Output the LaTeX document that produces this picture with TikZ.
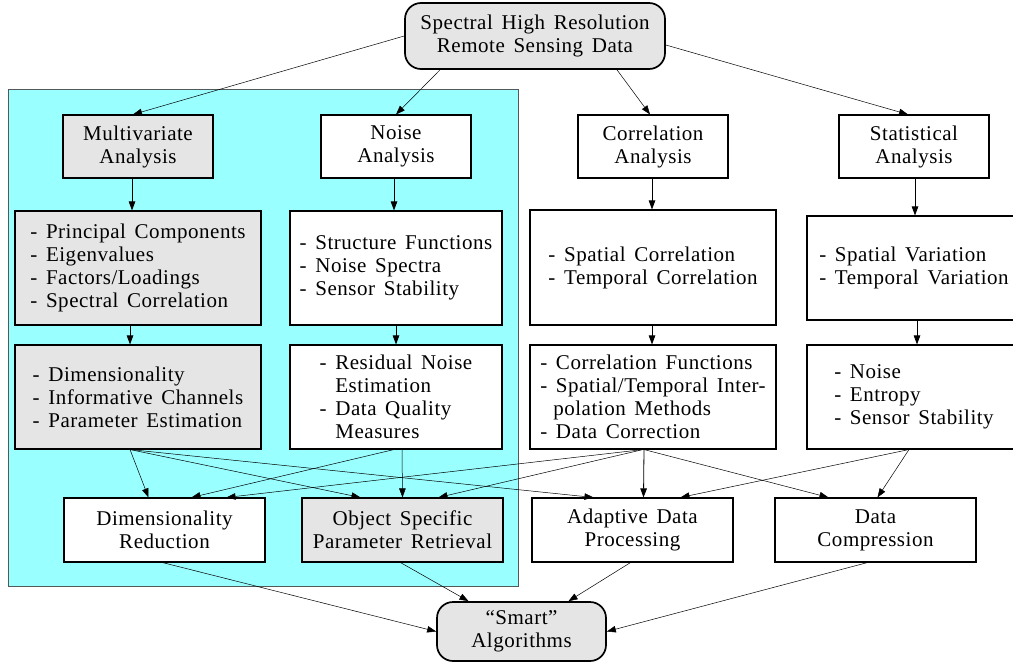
\documentclass[tikz,border=0pt]{standalone}
\usepackage{fontspec}
\setmainfont{Liberation Serif}[LetterSpace=2.5,WordSpace=1.5]
\usetikzlibrary{arrows.meta}
\definecolor{bgcyan}{RGB}{153,255,255}
\definecolor{boxgray}{RGB}{229,229,229}
\definecolor{bgedge}{RGB}{80,90,90}
\begin{document}
\begin{tikzpicture}[x=1pt,y=-1pt,
  txt/.style={font=\fontsize{21}{23}\selectfont},
  box/.style={draw, line width=1.1pt, inner sep=0pt, align=center, txt},
  lbox/.style={box, align=left},
  gbox/.style={fill=boxgray},
  rbox/.style={draw, line width=1.7pt, rounded corners=16pt, fill=boxgray, inner sep=0pt, align=center, txt},
  arr/.style={-{Triangle[length=9pt,width=6.5pt]}, line width=0.5pt},
  varr/.style={-{Triangle[length=9pt,width=6.5pt]}, line width=0.8pt}]
\useasboundingbox (0,0) rectangle (1013,662);
% background panel
\node[draw=bgedge, line width=0.8pt, fill=bgcyan, minimum width=510pt, minimum height=497pt, inner sep=0pt] (bg) at (263,337.5) {};
% top and bottom
\node[rbox, minimum width=260pt, minimum height=66pt] (sp) at (535,36) {Spectral High Resolution\\Remote Sensing Data};
\node[rbox, minimum width=169pt, minimum height=59pt] (sm) at (521.5,631.5) {“Smart”\\Algorithms};
% row 1
\node[box, gbox, minimum width=150pt, minimum height=63pt] (ma) at (138,146.5) {Multivariate\\Analysis};
\node[box, fill=white, minimum width=150pt, minimum height=63pt] (na) at (396,146.5) {Noise\\Analysis};
\node[box, fill=white, minimum width=150pt, minimum height=63pt] (ca) at (653,146.5) {Correlation\\Analysis};
\node[box, fill=white, minimum width=150pt, minimum height=63pt] (sa) at (914,146.5) {Statistical\\Analysis};
% row 2
\node[lbox, gbox, minimum width=246pt, minimum height=114pt] (ma2) at (138,268) {- Principal Components\\- Eigenvalues\\- Factors/Loadings\\- Spectral Correlation};
\node[lbox, fill=white, minimum width=212pt, minimum height=114pt] (na2) at (396,268) {- Structure Functions\\- Noise Spectra\\- Sensor Stability};
\node[lbox, fill=white, minimum width=246pt, minimum height=115pt] (ca2) at (653,267.5) {- Spatial Correlation\\- Temporal Correlation};
\node[lbox, fill=white, minimum width=214pt, minimum height=104pt] (sa2) at (914,268) {- Spatial Variation\\- Temporal Variation};
% row 3
\node[lbox, gbox, minimum width=246pt, minimum height=104pt] (ma3) at (138,397) {- Dimensionality\\- Informative Channels\\- Parameter Estimation};
\node[lbox, fill=white, minimum width=212pt, minimum height=104pt] (na3) at (396,397) {- Residual Noise\\\hphantom{- }Estimation\\- Data Quality\\\hphantom{- }Measures};
\node[lbox, fill=white, minimum width=246pt, minimum height=104pt] (ca3) at (653,397) {- Correlation Functions\\- Spatial/Temporal Inter-\\\hspace*{13pt}polation Methods\\- Data Correction};
\node[lbox, fill=white, minimum width=214pt, minimum height=104pt] (sa3) at (914,397) {- Noise\\- Entropy\\- Sensor Stability};
% row 4
\node[box, fill=white, minimum width=201pt, minimum height=64pt] (dr) at (164.5,530) {Dimensionality\\Reduction};
\node[box, gbox, minimum width=201pt, minimum height=64pt] (ospr) at (402.5,530) {Object Specific\\Parameter Retrieval};
\node[box, fill=white, minimum width=201pt, minimum height=64pt] (adp) at (632.5,530) {Adaptive Data\\Processing};
\node[box, fill=white, minimum width=201pt, minimum height=64pt] (dc) at (875.5,530) {Data\\Compression};
% top connectors
\draw[arr] (sp.west) -- ([xshift=-5pt]ma.north);
\draw[arr] ([xshift=-95pt]sp.south) -- (na.north);
\draw[arr] ([xshift=82pt]sp.south) -- ([xshift=-3pt]ca.north);
\draw[arr] ([yshift=-9pt]sp.east) -- ([xshift=-6pt]sa.north);
% vertical connectors
\draw[varr] ([xshift=-6pt]ma.south) -- ([xshift=-6pt]ma2.north);
\draw[varr] ([xshift=-8pt]ma2.south) -- ([xshift=-8pt]ma3.north);
\draw[varr] ([xshift=-2pt]na.south) -- ([xshift=-2pt]na2.north);
\draw[varr] (na2.south) -- (na3.north);
\draw[varr] ([xshift=-1pt]ca.south) -- ([xshift=-1pt]ca2.north);
\draw[varr] ([xshift=-1pt]ca2.south) -- ([xshift=-1pt]ca3.north);
\draw[varr] ([xshift=1pt]sa.south) -- ([xshift=1pt]sa2.north);
\draw[varr] ([xshift=3pt]sa2.south) -- ([xshift=3pt]sa3.north);
% row 3 -> row 4
\draw[arr] ([xshift=-8pt]ma3.south) -- ([xshift=-16pt]dr.north);
\draw[arr] ([xshift=-8pt]ma3.south) -- ([xshift=-42pt]ospr.north);
\draw[arr] ([xshift=-8pt]ma3.south) -- ([xshift=-39pt]adp.north);
\draw[arr] ([xshift=-2pt]na3.south) -- ([xshift=27pt]dr.north);
\draw[arr] ([xshift=6pt]na3.south) -- (ospr.north);
\draw[arr] ([xshift=-10pt]ca3.south) -- ([xshift=62pt]dr.north);
\draw[arr] ([xshift=-10pt]ca3.south) -- ([xshift=36pt]ospr.north);
\draw[varr] ([xshift=-9pt]ca3.south) -- ([xshift=11pt]adp.north);
\draw[arr] ([xshift=-9pt]ca3.south) -- ([xshift=-47pt]dc.north);
\draw[arr] ([xshift=-5pt]sa3.south) -- ([xshift=48pt]adp.north);
\draw[arr] ([xshift=-5pt]sa3.south) -- ([xshift=2pt]dc.north);
% row 4 -> smart
\draw[arr] ([xshift=-2pt]dr.south) -- (sm.west);
\draw[arr] ([xshift=-2pt]ospr.south) -- ([xshift=-53pt]sm.north);
\draw[arr] ([xshift=-2pt]adp.south) -- ([xshift=47pt]sm.north);
\draw[arr] ([xshift=-8pt]dc.south) -- (sm.east);
\end{tikzpicture}
\end{document}
